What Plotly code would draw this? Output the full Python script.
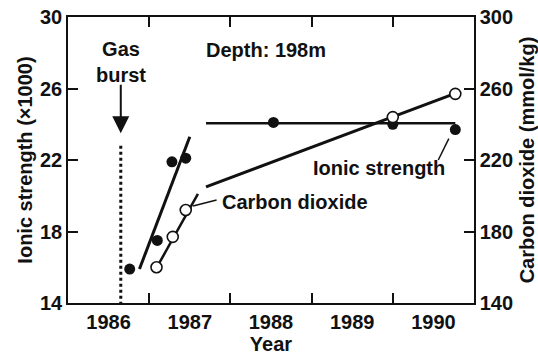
import plotly.graph_objects as go

# Ionic strength (x1000), left axis
ionic_years = [1986.76, 1987.10, 1987.28, 1987.45, 1988.53, 1990.00, 1990.77]
ionic_values = [15.9, 17.5, 21.9, 22.1, 24.1, 24.0, 23.7]

# Carbon dioxide (mmol/kg), right axis
co2_years = [1987.09, 1987.29, 1987.45, 1990.00, 1990.77]
co2_values = [160, 177, 192, 244, 257]

# fitted trend lines
ionic_fit1_x = [1986.88, 1987.50]
ionic_fit1_y = [15.9, 23.3]
ionic_fit2_x = [1987.70, 1990.77]
ionic_fit2_y = [24.05, 24.05]
co2_fit1_x = [1987.07, 1987.60]
co2_fit1_y = [158, 201]
co2_fit2_x = [1987.70, 1990.77]
co2_fit2_y = [205, 257.3]

gas_burst_year = 1986.65

year_ticks = [1987, 1988, 1989, 1990]
year_label_pos = [1986.5, 1987.5, 1988.5, 1989.5, 1990.5]
year_labels = ["1986", "1987", "1988", "1989", "1990"]
left_ticks = [14, 18, 22, 26, 30]
right_ticks = [140, 180, 220, 260, 300]

FONT = "Liberation Sans, Arial, sans-serif"
INK = "#111111"
BOLD = 700

fig = go.Figure()

# gas burst dotted line
fig.add_trace(go.Scatter(x=[gas_burst_year, gas_burst_year], y=[22.8, 14], mode="lines",
                         line=dict(color=INK, width=3, dash="dot"), showlegend=False))

# ionic fits
fig.add_trace(go.Scatter(x=ionic_fit1_x, y=ionic_fit1_y, mode="lines",
                         line=dict(color=INK, width=3), showlegend=False))
fig.add_trace(go.Scatter(x=ionic_fit2_x, y=ionic_fit2_y, mode="lines",
                         line=dict(color=INK, width=2.5), showlegend=False))
fig.add_trace(go.Scatter(x=ionic_years, y=ionic_values, mode="markers",
                         marker=dict(color=INK, size=11, line=dict(width=0)),
                         name="Ionic strength", showlegend=False))

# co2 fits & points on right axis
fig.add_trace(go.Scatter(x=co2_fit1_x, y=co2_fit1_y, mode="lines", yaxis="y2",
                         line=dict(color=INK, width=2.5), showlegend=False))
fig.add_trace(go.Scatter(x=co2_fit2_x, y=co2_fit2_y, mode="lines", yaxis="y2",
                         line=dict(color=INK, width=3), showlegend=False))
fig.add_trace(go.Scatter(x=co2_years, y=co2_values, mode="markers", yaxis="y2",
                         marker=dict(color="white", size=11, line=dict(color=INK, width=1.6)),
                         name="Carbon dioxide", showlegend=False))

tickfont = dict(family=FONT, size=20, color=INK, weight=BOLD)
titlefont = dict(family=FONT, size=20, color=INK, weight=BOLD)

fig.update_layout(
    width=538, height=359,
    margin=dict(l=68, r=64, t=17, b=56),
    paper_bgcolor="white", plot_bgcolor="white",
    font=dict(family=FONT, size=20, color=INK),
    xaxis=dict(range=[1986, 1991], tickmode="array", tickvals=year_label_pos, ticktext=year_labels,
               ticks="", showline=True, linecolor=INK, linewidth=1.5, showgrid=False, zeroline=False,
               tickfont=tickfont, automargin=False,
               minor=dict(tickmode="array", tickvals=year_ticks, ticks="inside", ticklen=10,
                          tickwidth=1.5, tickcolor=INK, showgrid=False),
               title=dict(text="Year", font=titlefont, standoff=4)),
    xaxis2=dict(range=[1986, 1991], overlaying="x", side="top", tickmode="array", tickvals=year_ticks,
                ticks="inside", ticklen=10, tickwidth=1.5, tickcolor=INK, showticklabels=False,
                showline=True, linecolor=INK, linewidth=1.5, showgrid=False, zeroline=False,
                automargin=False),
    yaxis=dict(range=[14, 30], tickmode="array", tickvals=left_ticks, ticks="inside", ticklen=10,
               tickwidth=1.5, tickcolor=INK, showline=True, linecolor=INK, linewidth=1.5,
               showgrid=False, zeroline=False, tickfont=tickfont, automargin=False,
               title=dict(text="Ionic strength (×1000)", font=titlefont, standoff=2)),
    yaxis2=dict(range=[140, 300], overlaying="y", side="right", tickmode="array", tickvals=right_ticks,
                ticks="inside", ticklen=10, tickwidth=1.5, tickcolor=INK, showline=True, linecolor=INK,
                linewidth=1.5, showgrid=False, zeroline=False, tickfont=tickfont, automargin=False,
                title=dict(text="Carbon dioxide (mmol/kg)", font=titlefont, standoff=14)),
)

# dummy trace to activate xaxis2
fig.add_trace(go.Scatter(x=[1986], y=[14], xaxis="x2", mode="markers", marker=dict(opacity=0),
                         showlegend=False, hoverinfo="skip"))

anno_font = dict(family=FONT, size=20, color=INK, weight=BOLD)
fig.add_annotation(x=1988.44, y=28.15, text="Depth: 198m", showarrow=False, font=anno_font)
fig.add_annotation(x=gas_burst_year, y=27.5, text="Gas<br>burst", showarrow=False, font=anno_font)
fig.add_annotation(x=gas_burst_year, y=23.5, ax=gas_burst_year, ay=26.3, axref="x", ayref="y",
                   text="", showarrow=True, arrowhead=2, arrowsize=1.7, arrowwidth=2, arrowcolor=INK)
fig.add_annotation(x=1989.83, y=21.55, text="Ionic strength", showarrow=False, font=anno_font)
fig.add_annotation(x=1988.80, y=19.65, text="Carbon dioxide", showarrow=False, font=anno_font)

# leader lines
fig.add_shape(type="line", x0=1990.56, y0=22.0, x1=1990.69, y1=23.2, xref="x", yref="y",
              line=dict(color=INK, width=1.5))
fig.add_shape(type="line", x0=1987.54, y0=19.43, x1=1987.83, y1=19.76, xref="x", yref="y",
              line=dict(color=INK, width=1.5))

fig.write_html("out.html")
